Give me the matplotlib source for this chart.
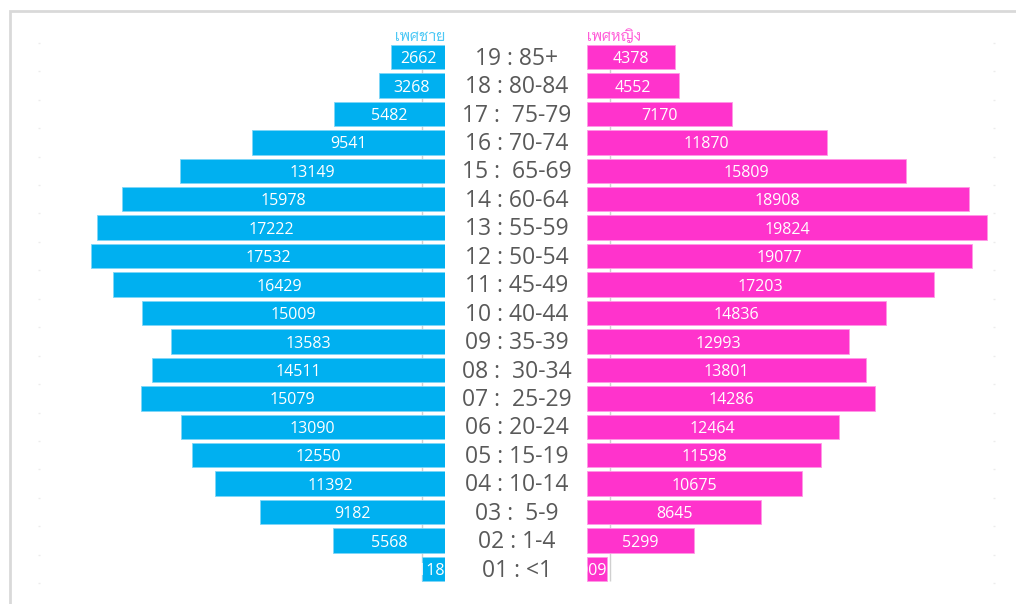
import matplotlib
matplotlib.use("Agg")
import matplotlib.pyplot as plt
from matplotlib.patches import Rectangle
from matplotlib.transforms import blended_transform_factory, offset_copy

# age groups, bottom (youngest) to top (oldest)
age_labels = ['01 : <1', '02 : 1-4', '03 :  5-9', '04 : 10-14', '05 : 15-19',
              '06 : 20-24', '07 :  25-29', '08 :  30-34', '09 : 35-39', '10 : 40-44',
              '11 : 45-49', '12 : 50-54', '13 : 55-59', '14 : 60-64', '15 :  65-69',
              '16 : 70-74', '17 :  75-79', '18 : 80-84', '19 : 85+']
male = [1118, 5568, 9182, 11392, 12550, 13090, 15079, 14511, 13583, 15009,
        16429, 17532, 17222, 15978, 13149, 9541, 5482, 3268, 2662]
female = [1009, 5299, 8645, 10675, 11598, 12464, 14286, 13801, 12993, 14836,
          17203, 19077, 19824, 18908, 15809, 11870, 7170, 4552, 4378]

male_color = '#00B0F0'
female_color = '#FF33CC'
num_font = ['Open Sans', 'DejaVu Sans']
thai_font = ['Niramit', 'DejaVu Sans']

W, H = 1016, 604
fig = plt.figure(figsize=(W / 100, H / 100), dpi=100)
fig.patch.set_facecolor('white')

# outer light grey frame (only top/left edges visible)
fig.patches.append(Rectangle((9.5 / W, -0.2), 1.5, 1.2 - 11.5 / H, transform=fig.transFigure,
                             fill=False, edgecolor='#d9d9d9', linewidth=2))

bottom = 1 - 583.2 / H
height = (583.2 - 42.8) / H
ax_m = fig.add_axes([40 / W, bottom, 405 / W, height])
ax_f = fig.add_axes([587 / W, bottom, 406 / W, height])

y = list(range(len(age_labels)))
bh = 0.86

bars_m = ax_m.barh(y, male, height=bh, color=male_color, edgecolor='#7fd6f7', linewidth=0.6, zorder=3)
bars_f = ax_f.barh(y, female, height=bh, color=female_color, edgecolor='#ff99e6', linewidth=0.6, zorder=3)

ax_m.set_xlim(20059, 0)
ax_f.set_xlim(0, 20119)
for ax in (ax_m, ax_f):
    ax.set_ylim(-0.5, len(age_labels) - 0.5)
    for s in ax.spines.values():
        s.set_visible(False)
    ax.set_xticks([])
    ax.set_yticks([i - 0.5 for i in range(len(age_labels) + 1)])
    ax.set_yticklabels([])
    ax.tick_params(axis='y', length=1.5, width=1, color='#ececec')
    ax.patch.set_alpha(0)
    # faint vertical axis line showing in the gaps between bars
    ax.vlines(1140, -bh / 2, len(age_labels) - 1 + bh / 2, color='#d0d0d0', linewidth=1, zorder=1)
ax_f.yaxis.tick_right()
ax_f.tick_params(axis='y', length=1.5, width=1, color='#ececec')


def label_bars(ax, bars, vals, right_of):
    tr = offset_copy(ax.transData, fig=fig, x=0, y=-1.5, units='points')
    for b, v in zip(bars, vals):
        yc = b.get_y() + b.get_height() / 2
        if v < 2000:
            t = ax.text(right_of(v), yc, str(v), ha='right', va='center', color='white',
                        fontsize=11.5, family=num_font, zorder=4, transform=tr)
        else:
            t = ax.text(v / 2, yc, str(v), ha='center', va='center', color='white',
                        fontsize=11.5, family=num_font, zorder=4, transform=tr)
        t.set_clip_path(b)


label_bars(ax_m, bars_m, male, lambda v: 0)
label_bars(ax_f, bars_f, female, lambda v: v)

# age group labels in the middle
trans = offset_copy(blended_transform_factory(fig.transFigure, ax_m.transData),
                    fig=fig, x=0, y=-1.2, units='points')
for i, lab in enumerate(age_labels):
    ax_m.text(517 / W, i, lab, transform=trans, ha='center', va='center',
              fontsize=16.5, color='#595959', family=num_font, clip_on=False)

# series headers
top_y = len(age_labels) - 1 + bh / 2 + 0.02
ax_m.text(0, top_y, 'เพศชาย', ha='right', va='bottom', color='#4cc8f5',
          fontsize=10.5, family=thai_font, clip_on=False)
ax_f.text(0, top_y, 'เพศหญิง', ha='left', va='bottom', color='#ff5cd8',
          fontsize=10.5, family=thai_font, clip_on=False)

fig.savefig('out.png', dpi=100)
